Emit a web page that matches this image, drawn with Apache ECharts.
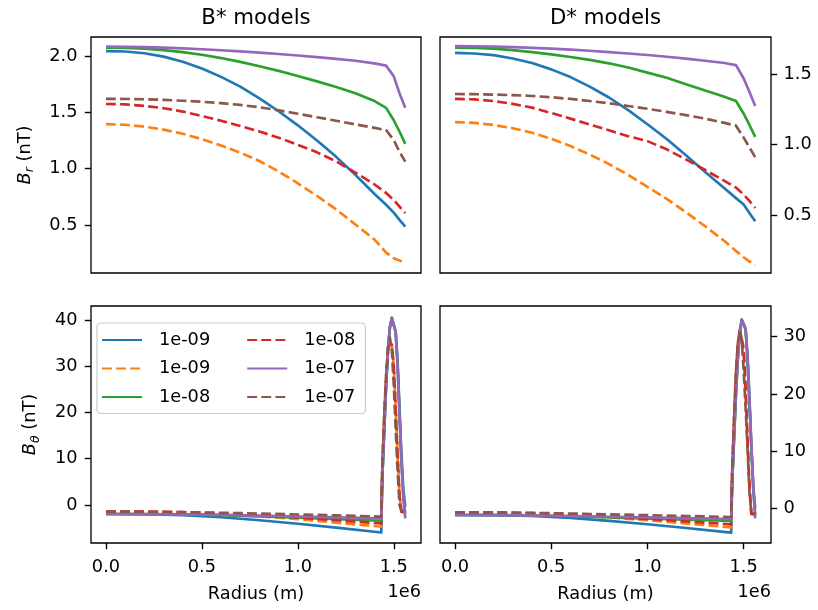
<!DOCTYPE html>
<html>
<head>
<meta charset="utf-8">
<script src="https://cdn.jsdelivr.net/npm/echarts@6/dist/echarts.min.js"></script>
<style>
  html, body { margin: 0; padding: 0; background: #ffffff; }
  #chart { width: 818px; height: 610px; }
</style>
</head>
<body>
<div id="chart"></div>
<script>
// ---- data ---------------------------------------------------------------
// Radius sample points (m) for the radial field B_r
const radiusBr = [0, 1e5, 2e5, 3e5, 4e5, 5e5, 6e5, 7e5, 8e5, 9e5, 1e6,
                  1.1e6, 1.2e6, 1.3e6, 1.4e6, 1.46e6, 1.5e6, 1.53e6, 1.56e6];

// B* models, B_r (nT)
const bBrBlue   = [2.044, 2.040, 2.025, 1.995, 1.950, 1.890, 1.815, 1.728, 1.625, 1.510, 1.385, 1.250, 1.105, 0.945, 0.775, 0.680, 0.610, 0.545, 0.485];
const bBrOrange = [1.395, 1.390, 1.373, 1.347, 1.310, 1.262, 1.205, 1.142, 1.068, 0.975, 0.870, 0.758, 0.638, 0.505, 0.370, 0.255, 0.205, 0.185, 0.168];
const bBrGreen  = [2.075, 2.073, 2.066, 2.053, 2.035, 2.011, 1.982, 1.948, 1.910, 1.868, 1.822, 1.775, 1.725, 1.670, 1.600, 1.540, 1.430, 1.330, 1.220];
const bBrRed    = [1.574, 1.571, 1.558, 1.537, 1.507, 1.468, 1.425, 1.379, 1.330, 1.275, 1.212, 1.145, 1.065, 0.965, 0.860, 0.785, 0.722, 0.663, 0.605];
const bBrPurple = [2.083, 2.082, 2.079, 2.074, 2.068, 2.060, 2.051, 2.041, 2.030, 2.018, 2.005, 1.990, 1.975, 1.958, 1.935, 1.915, 1.820, 1.670, 1.540];
const bBrBrown  = [1.620, 1.619, 1.616, 1.611, 1.603, 1.594, 1.582, 1.566, 1.545, 1.518, 1.488, 1.457, 1.425, 1.393, 1.362, 1.343, 1.254, 1.150, 1.062];

// D* models, B_r (nT)
const dBrBlue   = [1.652, 1.648, 1.636, 1.612, 1.580, 1.535, 1.480, 1.412, 1.335, 1.245, 1.145, 1.040, 0.925, 0.805, 0.690, 0.620, 0.575, 0.515, 0.455];
const dBrOrange = [1.160, 1.155, 1.140, 1.117, 1.085, 1.042, 0.990, 0.930, 0.862, 0.785, 0.700, 0.615, 0.520, 0.420, 0.315, 0.245, 0.200, 0.170, 0.148];
const dBrGreen  = [1.690, 1.688, 1.682, 1.672, 1.658, 1.642, 1.623, 1.602, 1.578, 1.548, 1.512, 1.475, 1.430, 1.385, 1.340, 1.310, 1.220, 1.140, 1.055];
const dBrRed    = [1.325, 1.322, 1.310, 1.290, 1.263, 1.225, 1.185, 1.143, 1.102, 1.060, 1.025, 0.967, 0.895, 0.820, 0.743, 0.695, 0.645, 0.600, 0.550];
const dBrPurple = [1.700, 1.699, 1.697, 1.693, 1.688, 1.682, 1.675, 1.667, 1.658, 1.648, 1.637, 1.625, 1.611, 1.596, 1.580, 1.565, 1.470, 1.375, 1.275];
const dBrBrown  = [1.360, 1.359, 1.356, 1.352, 1.346, 1.337, 1.325, 1.310, 1.294, 1.275, 1.255, 1.233, 1.210, 1.185, 1.155, 1.135, 1.050, 0.980, 0.910];

// Radius sample points (m) for the azimuthal field B_theta
const radiusBt = [0, 2e5, 4e5, 6e5, 8e5, 1e6, 1.2e6, 1.435e6, 1.44e6, 1.45e6, 1.46e6,
                  1.47e6, 1.48e6, 1.49e6, 1.5e6, 1.51e6, 1.52e6, 1.53e6, 1.54e6, 1.55e6, 1.56e6];

// B* models, B_theta (nT)
const bBtBlue   = [-1.95, -2.00, -2.20, -2.65, -3.30, -4.05, -4.90, -5.95, 5.5, 15.5, 25.5, 33.5, 38.3, 40.3, 40.2, 37.5, 31.0, 21.0, 11.0, 3.5, -0.4];
const bBtOrange = [-1.40, -1.45, -1.60, -1.95, -2.45, -3.05, -3.80, -4.70, 7.0, 18.0, 27.0, 33.0, 35.5, 35.0, 30.0, 21.0, 11.0, 2.5, -1.5, -1.8, -1.6];
const bBtGreen  = [-1.95, -1.97, -2.05, -2.20, -2.45, -2.75, -3.05, -3.40, 5.8, 15.8, 25.8, 33.8, 38.5, 40.5, 40.3, 37.3, 30.2, 19.8, 9.6, 1.8, -1.9];
const bBtRed    = [-1.42, -1.45, -1.55, -1.80, -2.20, -2.70, -3.30, -4.00, 7.5, 18.5, 27.5, 33.0, 35.2, 34.6, 30.0, 21.0, 11.0, 2.0, -1.5, -1.6, -1.4];
const bBtPurple = [-1.95, -1.97, -2.03, -2.13, -2.30, -2.48, -2.68, -2.90, 5.8, 15.9, 26.0, 33.9, 38.6, 40.5, 40.4, 37.5, 30.3, 19.5, 9.4, 1.4, -2.9];
const bBtBrown  = [-1.44, -1.46, -1.55, -1.68, -1.85, -2.05, -2.25, -2.50, 8.6, 19.5, 28.1, 33.9, 36.2, 33.5, 26.0, 16.5, 7.2, 0.0, -1.3, -1.2, -1.0];

// D* models, B_theta (nT)
const dBtBlue   = [-1.17, -1.20, -1.35, -1.70, -2.20, -2.80, -3.45, -4.25, 4.3, 12.3, 20.5, 27.0, 31.0, 33.0, 33.1, 31.2, 26.0, 18.5, 10.5, 3.8, 0.0];
const dBtOrange = [-0.70, -0.75, -0.90, -1.20, -1.60, -2.10, -2.65, -3.33, 5.5, 15.0, 23.0, 28.5, 30.8, 30.5, 27.0, 20.0, 11.5, 3.5, -1.0, -1.3, -1.2];
const dBtGreen  = [-1.17, -1.19, -1.27, -1.40, -1.60, -1.80, -2.00, -2.22, 4.2, 12.3, 20.0, 26.3, 30.7, 33.0, 33.2, 31.4, 26.6, 19.0, 10.8, 3.3, -1.2];
const dBtRed    = [-0.72, -0.75, -0.85, -1.10, -1.45, -1.85, -2.30, -2.80, 6.0, 15.5, 23.5, 28.8, 31.2, 31.0, 28.0, 21.0, 12.0, 4.0, -1.0, -1.2, -1.0];
const dBtPurple = [-1.17, -1.19, -1.25, -1.35, -1.48, -1.60, -1.73, -1.87, 4.1, 12.2, 19.8, 26.2, 30.6, 32.9, 33.2, 31.5, 26.8, 19.2, 11.0, 3.5, -1.75];
const dBtBrown  = [-0.70, -0.72, -0.80, -0.92, -1.06, -1.20, -1.35, -1.52, 6.5, 16.0, 24.0, 29.0, 31.2, 29.5, 24.0, 17.5, 10.5, 2.9, -0.9, -1.0, -0.9];

// Legend labels, one per curve (same order as the value arrays)
const curveLabels = ['1e-09', '1e-09', '1e-08', '1e-08', '1e-07', '1e-07'];

// Tick positions
const radiusTicks = [0, 5e5, 1e6, 1.5e6];
const bBrTicks = [0.5, 1.0, 1.5, 2.0];
const dBrTicks = [0.5, 1.0, 1.5];
const bBtTicks = [0, 10, 20, 30, 40];
const dBtTicks = [0, 10, 20, 30];

// Panel titles
const panelTitles = ['B* models', 'D* models'];

// ---- styling ------------------------------------------------------------
const FONT = "'DejaVu Sans'";
const FS = 17.75;           // 10 pt
const LW = 2.66;            // 1.5 pt line width
const DASH = [9.85, 4.26];  // matplotlib '--'
const curveStyles = [
  { color: '#1f77b4', type: 'solid', kind: 'solid' },
  { color: '#ff7f0e', type: DASH, kind: 'dashed' },
  { color: '#2ca02c', type: 'solid', kind: 'solid' },
  { color: '#d62728', type: DASH, kind: 'dashed' },
  { color: '#9467bd', type: 'solid', kind: 'solid' },
  { color: '#8c564b', type: DASH, kind: 'dashed' }
];
const seriesNames = curveLabels.map((l, i) => l + ' ' + curveStyles[i].kind);

const yNameRich = {
  it: { fontFamily: FONT, fontSize: FS, fontStyle: 'italic', color: '#000' },
  sub: { fontFamily: FONT, fontSize: 12.4, fontStyle: 'italic', color: '#000', padding: [10, 0, 0, 0] },
  rm: { fontFamily: FONT, fontSize: FS, color: '#000' }
};

const panels = [
  { grid: { left: 91, top: 37, width: 330, height: 236 }, bottom: false,
    yMin: 0.074, yMax: 2.169, yTicks: bBrTicks, yPos: 'left', digits: 1,
    yName: '{it|B}{sub|r}{rm| (nT)}', yGap: 55,
    radius: radiusBr, values: [bBrBlue, bBrOrange, bBrGreen, bBrRed, bBrPurple, bBrBrown] },
  { grid: { left: 440, top: 37, width: 331, height: 236 }, bottom: false,
    yMin: 0.088, yMax: 1.765, yTicks: dBrTicks, yPos: 'right', digits: 1,
    yName: '', yGap: 0,
    radius: radiusBr, values: [dBrBlue, dBrOrange, dBrGreen, dBrRed, dBrPurple, dBrBrown] },
  { grid: { left: 91, top: 306, width: 330, height: 237 }, bottom: true,
    yMin: -8.22, yMax: 43.03, yTicks: bBtTicks, yPos: 'left', digits: 0,
    yName: '{it|B}{sub|θ}{rm| (nT)}', yGap: 49.5,
    radius: radiusBt, values: [bBtBlue, bBtOrange, bBtGreen, bBtRed, bBtPurple, bBtBrown] },
  { grid: { left: 440, top: 306, width: 331, height: 237 }, bottom: true,
    yMin: -6.07, yMax: 35.37, yTicks: dBtTicks, yPos: 'right', digits: 0,
    yName: '', yGap: 0,
    radius: radiusBt, values: [dBtBlue, dBtOrange, dBtGreen, dBtRed, dBtPurple, dBtBrown] }
];

const tickLine = { color: '#000', width: 1.4 };
const labelText = { fontFamily: FONT, fontSize: FS, color: '#000' };

const grids = [], xAxes = [], yAxes = [], series = [];
panels.forEach((p, i) => {
  grids.push(Object.assign({ show: true, borderColor: '#000', borderWidth: 1.3,
                             backgroundColor: 'transparent', containLabel: false }, p.grid));
  xAxes.push({
    gridIndex: i, type: 'value', min: -78000, max: 1642000, position: 'bottom',
    axisLine: { show: false, onZero: false }, splitLine: { show: false },
    axisTick: { show: p.bottom, customValues: radiusTicks, length: 6.2, lineStyle: tickLine },
    axisLabel: Object.assign({ show: p.bottom, customValues: radiusTicks, margin: 15,
                               formatter: v => (v / 1e6).toFixed(1) }, labelText),
    name: p.bottom ? 'Radius (m)' : '', nameLocation: 'middle', nameGap: 42,
    nameTextStyle: labelText
  });
  yAxes.push({
    gridIndex: i, type: 'value', min: p.yMin, max: p.yMax, position: p.yPos,
    axisLine: { show: false, onZero: false }, splitLine: { show: false },
    axisTick: { show: true, customValues: p.yTicks, length: 6.2, lineStyle: tickLine },
    axisLabel: Object.assign({ customValues: p.yTicks, margin: p.yPos === 'left' ? 13.5 : 12.5,
                               formatter: v => v.toFixed(p.digits) }, labelText),
    name: p.yName, nameLocation: 'middle', nameGap: p.yGap,
    nameTextStyle: { fontFamily: FONT, fontSize: FS, color: '#000', rich: yNameRich }
  });
  p.values.forEach((vals, k) => {
    const st = curveStyles[k];
    series.push({
      type: 'line', name: seriesNames[k], xAxisIndex: i, yAxisIndex: i,
      data: p.radius.map((r, j) => [r, vals[j]]),
      symbol: 'none', showSymbol: false, smooth: false, silent: true,
      lineStyle: { color: st.color, width: LW, type: st.type, cap: 'butt', join: 'round' },
      itemStyle: { color: st.color },
      emphasis: { disabled: true }
    });
  });
});

const chart = echarts.init(document.getElementById('chart'), null, { renderer: 'canvas' });
chart.setOption({
  animation: false,
  backgroundColor: '#ffffff',
  title: [
    { text: panelTitles[0], left: 256, top: 8, padding: 0, textAlign: 'center',
      textStyle: { fontFamily: FONT, fontSize: 21.3, fontWeight: 'normal', color: '#000' } },
    { text: panelTitles[1], left: 605.5, top: 8, padding: 0, textAlign: 'center',
      textStyle: { fontFamily: FONT, fontSize: 21.3, fontWeight: 'normal', color: '#000' } }
  ],
  legend: {
    orient: 'vertical', left: 97, top: 323, height: 90,
    padding: [8, 10, 7.5, 4], itemGap: 10.5, itemWidth: 40, itemHeight: 14,
    backgroundColor: 'rgba(255,255,255,0.8)', borderColor: '#cccccc', borderWidth: 1.2, borderRadius: 4,
    selectedMode: false,
    itemStyle: { opacity: 0 },
    textStyle: { fontFamily: FONT, fontSize: FS, color: '#000', padding: [0, 0, 0, 12] },
    formatter: n => n.split(' ')[0],
    // first column entries get extra right room so the second column starts further right
    data: seriesNames.map((n, i) => i < 3
      ? { name: n, textStyle: { padding: [0, 25.5, 0, 12], backgroundColor: 'rgba(255,255,255,0)' } }
      : { name: n })
  },
  grid: grids,
  xAxis: xAxes,
  yAxis: yAxes,
  series: series,
  graphic: [
    { type: 'text', x: 421, y: 592, silent: true,
      style: { text: '1e6', font: FS + 'px ' + FONT, fill: '#000', align: 'right', verticalAlign: 'middle',
               textAlign: 'right', textVerticalAlign: 'middle' } },
    { type: 'text', x: 771, y: 592, silent: true,
      style: { text: '1e6', font: FS + 'px ' + FONT, fill: '#000', align: 'right', verticalAlign: 'middle',
               textAlign: 'right', textVerticalAlign: 'middle' } }
  ]
});
</script>
</body>
</html>
